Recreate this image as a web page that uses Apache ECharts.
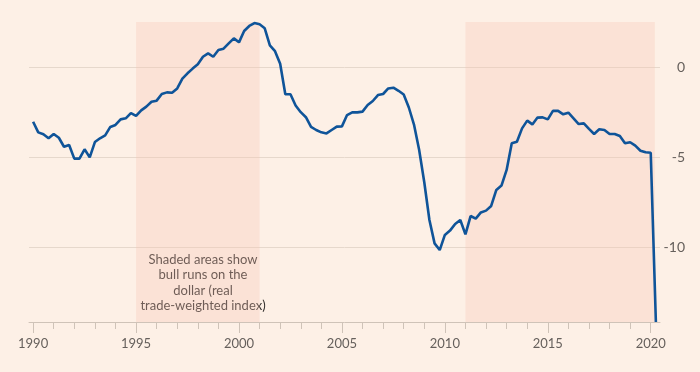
<!DOCTYPE html>
<html>
<head>
<meta charset="utf-8">
<script src="https://cdn.jsdelivr.net/npm/echarts@6/dist/echarts.min.js"></script>
<style>
html,body{margin:0;padding:0;background:#fdf0e6;}
#chart{width:700px;height:372px;}
</style>
</head>
<body>
<div id="chart"></div>
<script>
// Quarterly series, starting 1990 Q1
const startYear = 1990;
const values = [
  -3.04, -3.63, -3.74, -3.96, -3.72, -3.93, -4.43, -4.33, -5.09, -5.09,
  -4.57, -5.02, -4.17, -3.96, -3.80, -3.33, -3.22, -2.91, -2.85, -2.56,
  -2.72, -2.41, -2.20, -1.93, -1.87, -1.50, -1.41, -1.43, -1.19, -0.65,
  -0.35, -0.09, 0.15, 0.57, 0.76, 0.57, 0.94, 1.02, 1.31, 1.59,
  1.37, 2.00, 2.28, 2.44, 2.37, 2.15, 1.20, 0.88, 0.18, -1.51,
  -1.51, -2.14, -2.51, -2.79, -3.33, -3.50, -3.63, -3.69, -3.50, -3.31,
  -3.30, -2.67, -2.52, -2.52, -2.48, -2.11, -1.89, -1.56, -1.50, -1.19,
  -1.15, -1.32, -1.53, -2.25, -3.20, -4.60, -6.40, -8.50, -9.80, -10.17,
  -9.33, -9.09, -8.72, -8.50, -9.30, -8.28, -8.42, -8.08, -7.98, -7.72,
  -6.83, -6.59, -5.72, -4.24, -4.15, -3.41, -2.98, -3.19, -2.81, -2.80,
  -2.91, -2.44, -2.44, -2.63, -2.54, -2.85, -3.17, -3.13, -3.44, -3.72,
  -3.46, -3.50, -3.72, -3.72, -3.83, -4.24, -4.18, -4.37, -4.65, -4.74,
  -4.76, -14.17
];
const bullRuns = [[1995, 2001], [2011, 2020.2]];
const yearTicks = [];
for (let y = 1990; y <= 2020; y++) yearTicks.push(y);
const yearLabels = [1990, 1995, 2000, 2005, 2010, 2015, 2020];
const yLabels = [0, -5, -10];
const noteText = 'Shaded areas show\nbull runs on the\ndollar (real\ntrade-weighted index)';

const seriesData = values.map((v, i) => [startYear + i / 4, v]);

const chart = echarts.init(document.getElementById('chart'), null, {renderer: 'canvas'});
const font = 'Lato, "Open Sans", sans-serif';
const xCommon = {
  type: 'value', min: 1989.8, max: 2020.45,
  splitLine: {show: false}
};
chart.setOption({
  backgroundColor: '#fdf0e6',
  animation: false,
  grid: {left: 29, right: 40, top: 22, bottom: 50},
  xAxis: [
    Object.assign({}, xCommon, {
      position: 'bottom',
      axisLine: {show: true, onZero: false, lineStyle: {color: '#cfc3b8', width: 1}},
      axisTick: {show: true, customValues: yearTicks, length: 7, lineStyle: {color: '#cfc3b8'}},
      axisLabel: {show: true, customValues: yearLabels, margin: 15, color: '#66605c', fontSize: 13, fontFamily: font,
        formatter: v => String(Math.round(v))}
    }),
    Object.assign({}, xCommon, {
      position: 'bottom',
      axisLine: {show: false, onZero: false},
      axisTick: {show: true, customValues: yearLabels, length: 11, lineStyle: {color: '#cfc3b8'}},
      axisLabel: {show: false}
    })
  ],
  yAxis: {
    type: 'value', position: 'right', min: -14.1667, max: 2.5,
    axisLine: {show: false},
    axisTick: {show: false, customValues: yLabels},
    axisLabel: {customValues: yLabels, align: 'right', margin: 25, color: '#66605c', fontSize: 14, fontFamily: font},
    splitLine: {show: true, lineStyle: {color: '#e6d8cc', width: 1}}
  },
  series: [{
    type: 'line',
    data: seriesData,
    showSymbol: false,
    clip: false,
    lineStyle: {color: '#0f5499', width: 2.6},
    markArea: {
      silent: true,
      itemStyle: {color: 'rgba(250,197,178,0.30)'},
      data: bullRuns.map(r => [{xAxis: r[0]}, {xAxis: r[1]}])
    }
  }],
  graphic: [{
    type: 'text',
    x: 203, y: 252,
    style: {
      text: noteText,
      align: 'center',
      verticalAlign: 'top',
      lineHeight: 15.5,
      fill: '#33302e',
      font: '13px ' + font
    }
  }]
});
</script>
</body>
</html>
